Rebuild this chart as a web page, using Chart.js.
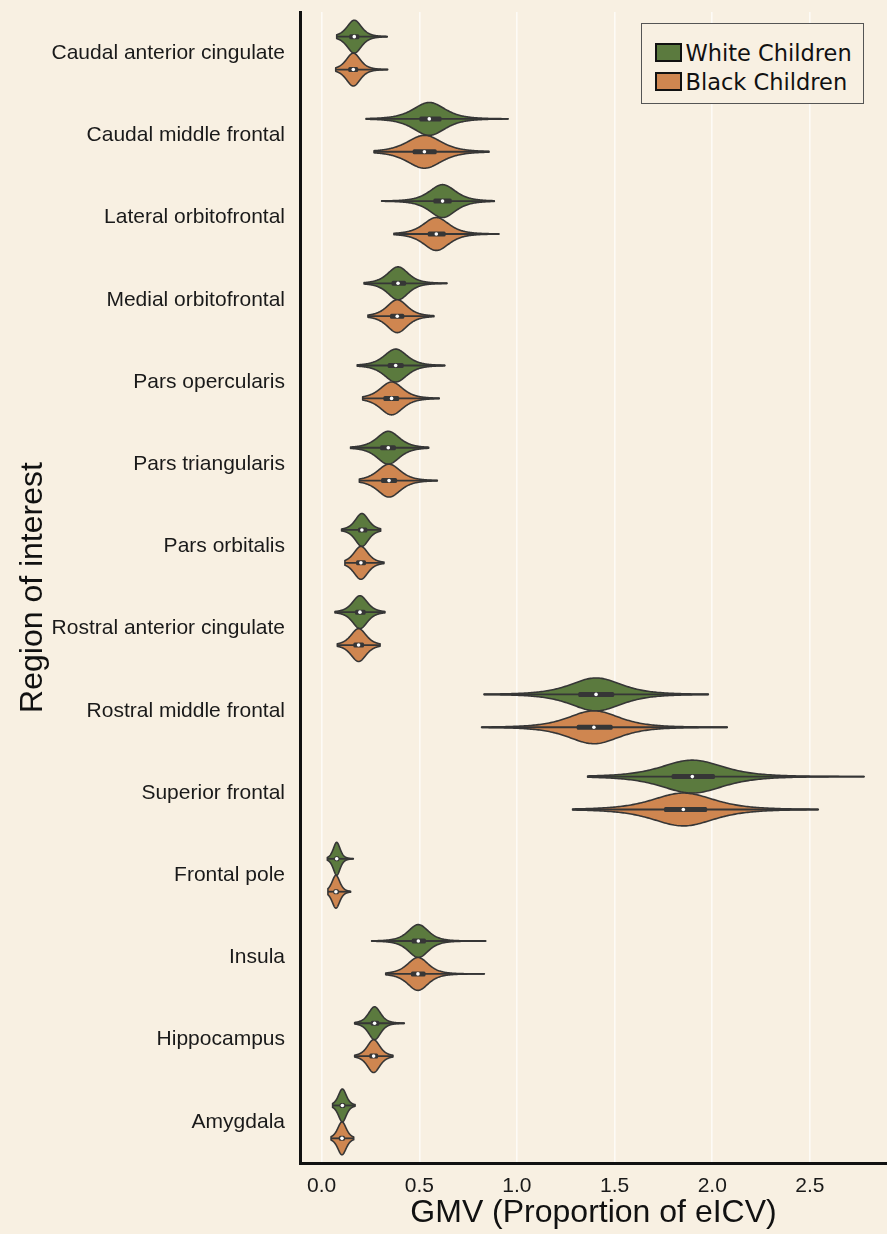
<!DOCTYPE html>
<html>
<head>
<meta charset="utf-8">
<title>GMV violin plot</title>
<script src="https://cdn.jsdelivr.net/npm/chart.js@4.4.1/dist/chart.umd.min.js"></script>
<style>
    html, body { margin: 0; padding: 0; background: #f8f0e2; }
    #wrap { position: relative; width: 887px; height: 1234px; }
    #legend {
        position: absolute; left: 641px; top: 23px; width: 223px; height: 81px;
        box-sizing: border-box; border: 1.5px solid #555; background: #f8f0e2;
        font-family: "DejaVu Sans", Verdana, sans-serif; font-size: 22.5px; color: #111;
    }
    #legend .row { position: absolute; left: 12.5px; height: 29px; display: flex; align-items: center; white-space: nowrap; }
    #legend .sw { width: 27px; height: 19px; box-sizing: border-box; border: 2px solid #111; margin-right: 4px; }
</style>
</head>
<body>
<div id="wrap">
    <canvas id="violin-chart" width="887" height="1234"></canvas>
    <div id="legend">
        <div class="row" style="top:14px"><span class="sw" style="background:#5b7a3e"></span>White Children</div>
        <div class="row" style="top:43px"><span class="sw" style="background:#cf8650"></span>Black Children</div>
    </div>
</div>
<script>
// GMV by region - violin plot (seaborn style) drawn on top of Chart.js scales

const regions = [
    'Caudal anterior cingulate', 'Caudal middle frontal', 'Lateral orbitofrontal',
    'Medial orbitofrontal', 'Pars opercularis', 'Pars triangularis', 'Pars orbitalis',
    'Rostral anterior cingulate', 'Rostral middle frontal', 'Superior frontal',
    'Frontal pole', 'Insula', 'Hippocampus', 'Amygdala'
];

// White children: whisker ends, quartiles, median
const whiteMin    = [0.077, 0.227, 0.307, 0.217, 0.182, 0.148, 0.102, 0.068, 0.831, 1.362, 0.029, 0.256, 0.169, 0.056];
const whiteQ1     = [0.141, 0.500, 0.572, 0.358, 0.338, 0.299, 0.186, 0.171, 1.314, 1.792, 0.065, 0.461, 0.251, 0.092];
const whiteMedian = [0.167, 0.551, 0.619, 0.391, 0.379, 0.341, 0.206, 0.196, 1.405, 1.898, 0.077, 0.495, 0.271, 0.106];
const whiteQ3     = [0.193, 0.614, 0.666, 0.432, 0.420, 0.380, 0.234, 0.225, 1.498, 2.014, 0.090, 0.534, 0.295, 0.121];
const whiteMax    = [0.336, 0.955, 0.884, 0.642, 0.631, 0.548, 0.302, 0.324, 1.980, 2.778, 0.162, 0.841, 0.423, 0.171];

// Black children
const blackMin    = [0.072, 0.268, 0.370, 0.237, 0.210, 0.193, 0.119, 0.080, 0.819, 1.285, 0.032, 0.328, 0.169, 0.048];
const blackQ1     = [0.136, 0.466, 0.543, 0.350, 0.316, 0.304, 0.176, 0.162, 1.306, 1.753, 0.060, 0.457, 0.244, 0.088];
const blackMedian = [0.162, 0.526, 0.587, 0.387, 0.358, 0.345, 0.201, 0.189, 1.394, 1.852, 0.073, 0.493, 0.266, 0.104];
const blackQ3     = [0.187, 0.589, 0.635, 0.423, 0.397, 0.386, 0.227, 0.217, 1.490, 1.974, 0.088, 0.532, 0.289, 0.119];
const blackMax    = [0.338, 0.857, 0.908, 0.575, 0.602, 0.592, 0.319, 0.299, 2.077, 2.543, 0.148, 0.833, 0.365, 0.164];

const xTicks = [0, 0.5, 1.0, 1.5, 2.0, 2.5];

const groups = [
    { label: 'White Children', color: '#5b7a3e', min: whiteMin, q1: whiteQ1, med: whiteMedian, q3: whiteQ3, max: whiteMax },
    { label: 'Black Children', color: '#cf8650', min: blackMin, q1: blackQ1, med: blackMedian, q3: blackQ3, max: blackMax }
];

const LINE = '#363636';

// kernel-ish profile used for the violin body (peak 1 at the median)
function profile(z) {
    return Math.pow(1 + z * z / 4, -2.5);
}

const violinPlugin = {
    id: 'violins',
    beforeDatasetsDraw(chart) {
        const ctx = chart.ctx;
        const x = chart.scales.x;
        const y = chart.scales.y;
        const cat = Math.abs(y.getPixelForValue(1) - y.getPixelForValue(0));
        const half = cat * 0.2;

        groups.forEach((g, di) => {
            const meta = chart.getDatasetMeta(di);
            meta.data.forEach((bar, i) => {
                const cy = bar.y;
                const lo = g.min[i], hi = g.max[i];
                const sigma = (g.q3[i] - g.q1[i]) / 1.35;
                const n = 160;
                const top = [];
                for (let k = 0; k <= n; k++) {
                    const v = lo + (hi - lo) * k / n;
                    const w = half * profile((v - g.med[i]) / sigma);
                    top.push([x.getPixelForValue(v), w]);
                }
                ctx.save();
                ctx.beginPath();
                top.forEach(([px, w], k) => k === 0 ? ctx.moveTo(px, cy - w) : ctx.lineTo(px, cy - w));
                for (let k = top.length - 1; k >= 0; k--) ctx.lineTo(top[k][0], cy + top[k][1]);
                ctx.closePath();
                ctx.fillStyle = g.color;
                ctx.fill();
                ctx.lineWidth = 1.6;
                ctx.lineJoin = 'round';
                ctx.strokeStyle = LINE;
                ctx.stroke();

                // whisker line
                ctx.beginPath();
                ctx.moveTo(x.getPixelForValue(lo), cy);
                ctx.lineTo(x.getPixelForValue(hi), cy);
                ctx.lineWidth = 1.8;
                ctx.stroke();
                ctx.restore();
            });
        });
    },
    afterDatasetsDraw(chart) {
        const ctx = chart.ctx;
        const x = chart.scales.x;
        groups.forEach((g, di) => {
            chart.getDatasetMeta(di).data.forEach((bar, i) => {
                ctx.save();
                ctx.beginPath();
                ctx.arc(x.getPixelForValue(g.med[i]), bar.y, 1.8, 0, Math.PI * 2);
                ctx.fillStyle = '#ffffff';
                ctx.fill();
                ctx.restore();
            });
        });
    }
};

const ctx = document.getElementById('violin-chart').getContext('2d');

new Chart(ctx, {
    type: 'bar',
    data: {
        labels: regions,
        datasets: groups.map(g => ({
            label: g.label,
            data: g.q1.map((q, i) => [q, g.q3[i]]),
            backgroundColor: LINE,
            borderWidth: 0,
            borderSkipped: false,
            borderRadius: 1.5,
            maxBarThickness: 5,
            categoryPercentage: 0.8,
            barPercentage: 1
        }))
    },
    options: {
        indexAxis: 'y',
        responsive: false,
        animation: false,
        devicePixelRatio: 1,
        layout: { padding: { top: 12, right: 0, bottom: 0, left: 0 } },
        plugins: {
            legend: { display: false },
            tooltip: { enabled: false }
        },
        scales: {
            y: {
                type: 'category',
                offset: true,
                grid: { display: false, drawTicks: false },
                border: { display: true, color: '#111111', width: 3 },
                ticks: {
                    color: '#1a1a1a',
                    padding: 15,
                    font: { family: '"Liberation Sans", Arial, sans-serif', size: 21 }
                },
                title: {
                    display: true,
                    text: 'Region of interest',
                    color: '#111111',
                    padding: { top: 14, bottom: 0 },
                    font: { family: '"Liberation Sans", Arial, sans-serif', size: 32 }
                },
                afterFit(scale) {
                    scale.width = 300;
                    scale.paddingTop = 0;
                    scale.paddingBottom = 0;
                }
            },
            x: {
                type: 'linear',
                min: -0.111,
                max: 2.895,
                grid: { color: 'rgba(255, 255, 255, 0.7)', lineWidth: 1.6, drawTicks: false },
                border: { display: true, color: '#111111', width: 3 },
                ticks: {
                    color: '#1a1a1a',
                    padding: 11,
                    font: { family: '"Liberation Sans", Arial, sans-serif', size: 21 },
                    callback: v => Number(v).toFixed(1)
                },
                afterBuildTicks(scale) {
                    scale.ticks = xTicks.map(v => ({ value: v }));
                },
                title: {
                    display: true,
                    text: 'GMV (Proportion of eICV)',
                    color: '#111111',
                    padding: { top: 0, bottom: 2 },
                    font: { family: '"Liberation Sans", Arial, sans-serif', size: 32 }
                },
                afterFit(scale) {
                    scale.height = 71;
                    scale.paddingLeft = 0;
                    scale.paddingRight = 0;
                }
            }
        }
    },
    plugins: [violinPlugin]
});
</script>
</body>
</html>
